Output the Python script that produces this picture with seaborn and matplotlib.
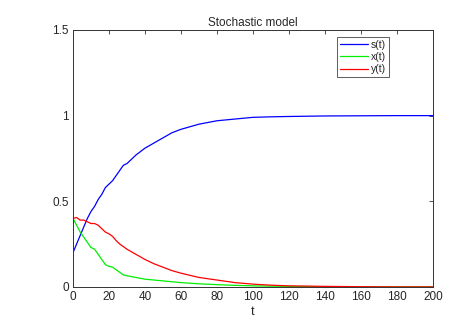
import matplotlib
matplotlib.use("Agg")
import matplotlib.pyplot as plt
import seaborn as sns
import pandas as pd

t = [0, 2, 4, 6, 8, 10, 12, 14, 16, 18, 20, 22, 24, 26, 28, 30, 35, 40, 45, 50,
     55, 60, 70, 80, 90, 100, 110, 120, 140, 160, 180, 200]
s_vals = [0.20, 0.25, 0.30, 0.35, 0.40, 0.44, 0.47, 0.51, 0.54, 0.58, 0.60, 0.62,
          0.65, 0.68, 0.71, 0.72, 0.77, 0.81, 0.84, 0.87, 0.90, 0.92, 0.95, 0.97,
          0.98, 0.99, 0.993, 0.995, 0.998, 0.999, 1.0, 1.0]
x_vals = [0.40, 0.36, 0.32, 0.29, 0.26, 0.23, 0.22, 0.19, 0.16, 0.13, 0.12, 0.115,
          0.10, 0.085, 0.07, 0.065, 0.055, 0.045, 0.040, 0.035, 0.030, 0.025, 0.018,
          0.013, 0.009, 0.006, 0.004, 0.003, 0.001, 0.0, 0.0, 0.0]
y_vals = [0.40, 0.405, 0.39, 0.39, 0.38, 0.37, 0.37, 0.36, 0.34, 0.32, 0.31, 0.295,
          0.27, 0.25, 0.235, 0.22, 0.19, 0.16, 0.135, 0.115, 0.095, 0.08, 0.055,
          0.04, 0.025, 0.016, 0.010, 0.006, 0.003, 0.001, 0.0, 0.0]
series_names = ["s(t)", "x(t)", "y(t)"]
colors = ["#0000ff", "#00ee00", "#ff0000"]

df = pd.concat([
    pd.DataFrame({"t": t, "value": v, "series": n})
    for n, v in zip(series_names, [s_vals, x_vals, y_vals])
])

sns.set_style("white")
plt.rcParams["font.family"] = ["Liberation Sans", "DejaVu Sans"]

fig = plt.figure(figsize=(4.59, 3.26), dpi=100)
ax = fig.add_axes([0.159, 0.12, 0.784, 0.788])
sns.lineplot(data=df, x="t", y="value", hue="series", palette=colors,
             hue_order=series_names, linewidth=0.9, ax=ax)

ax.set_xlim(0, 200)
ax.set_ylim(0, 1.5)
ax.set_xticks(range(0, 201, 20))
ax.set_yticks([0, 0.5, 1, 1.5])
ax.set_yticklabels(["0", "0.5", "1", "1.5"])
ax.tick_params(direction="in", top=True, right=True, length=3, width=0.6,
               labelsize=8.5, pad=3, color="#333333")
for sp in ax.spines.values():
    sp.set_color("#333333")
    sp.set_linewidth(0.7)
ax.set_xlabel("t", fontsize=9, labelpad=2)
ax.set_ylabel("")
ax.set_title("Stochastic model", fontsize=8.5, pad=3)

leg = ax.legend(loc="upper right", bbox_to_anchor=(0.878, 0.973), fontsize=7.5,
                frameon=True, fancybox=False, edgecolor="#333333",
                handlelength=2.6, handletextpad=0.3, borderpad=0.3,
                labelspacing=0.2, borderaxespad=0.0)
leg.get_frame().set_linewidth(0.7)

fig.savefig("out.png", dpi=100)
